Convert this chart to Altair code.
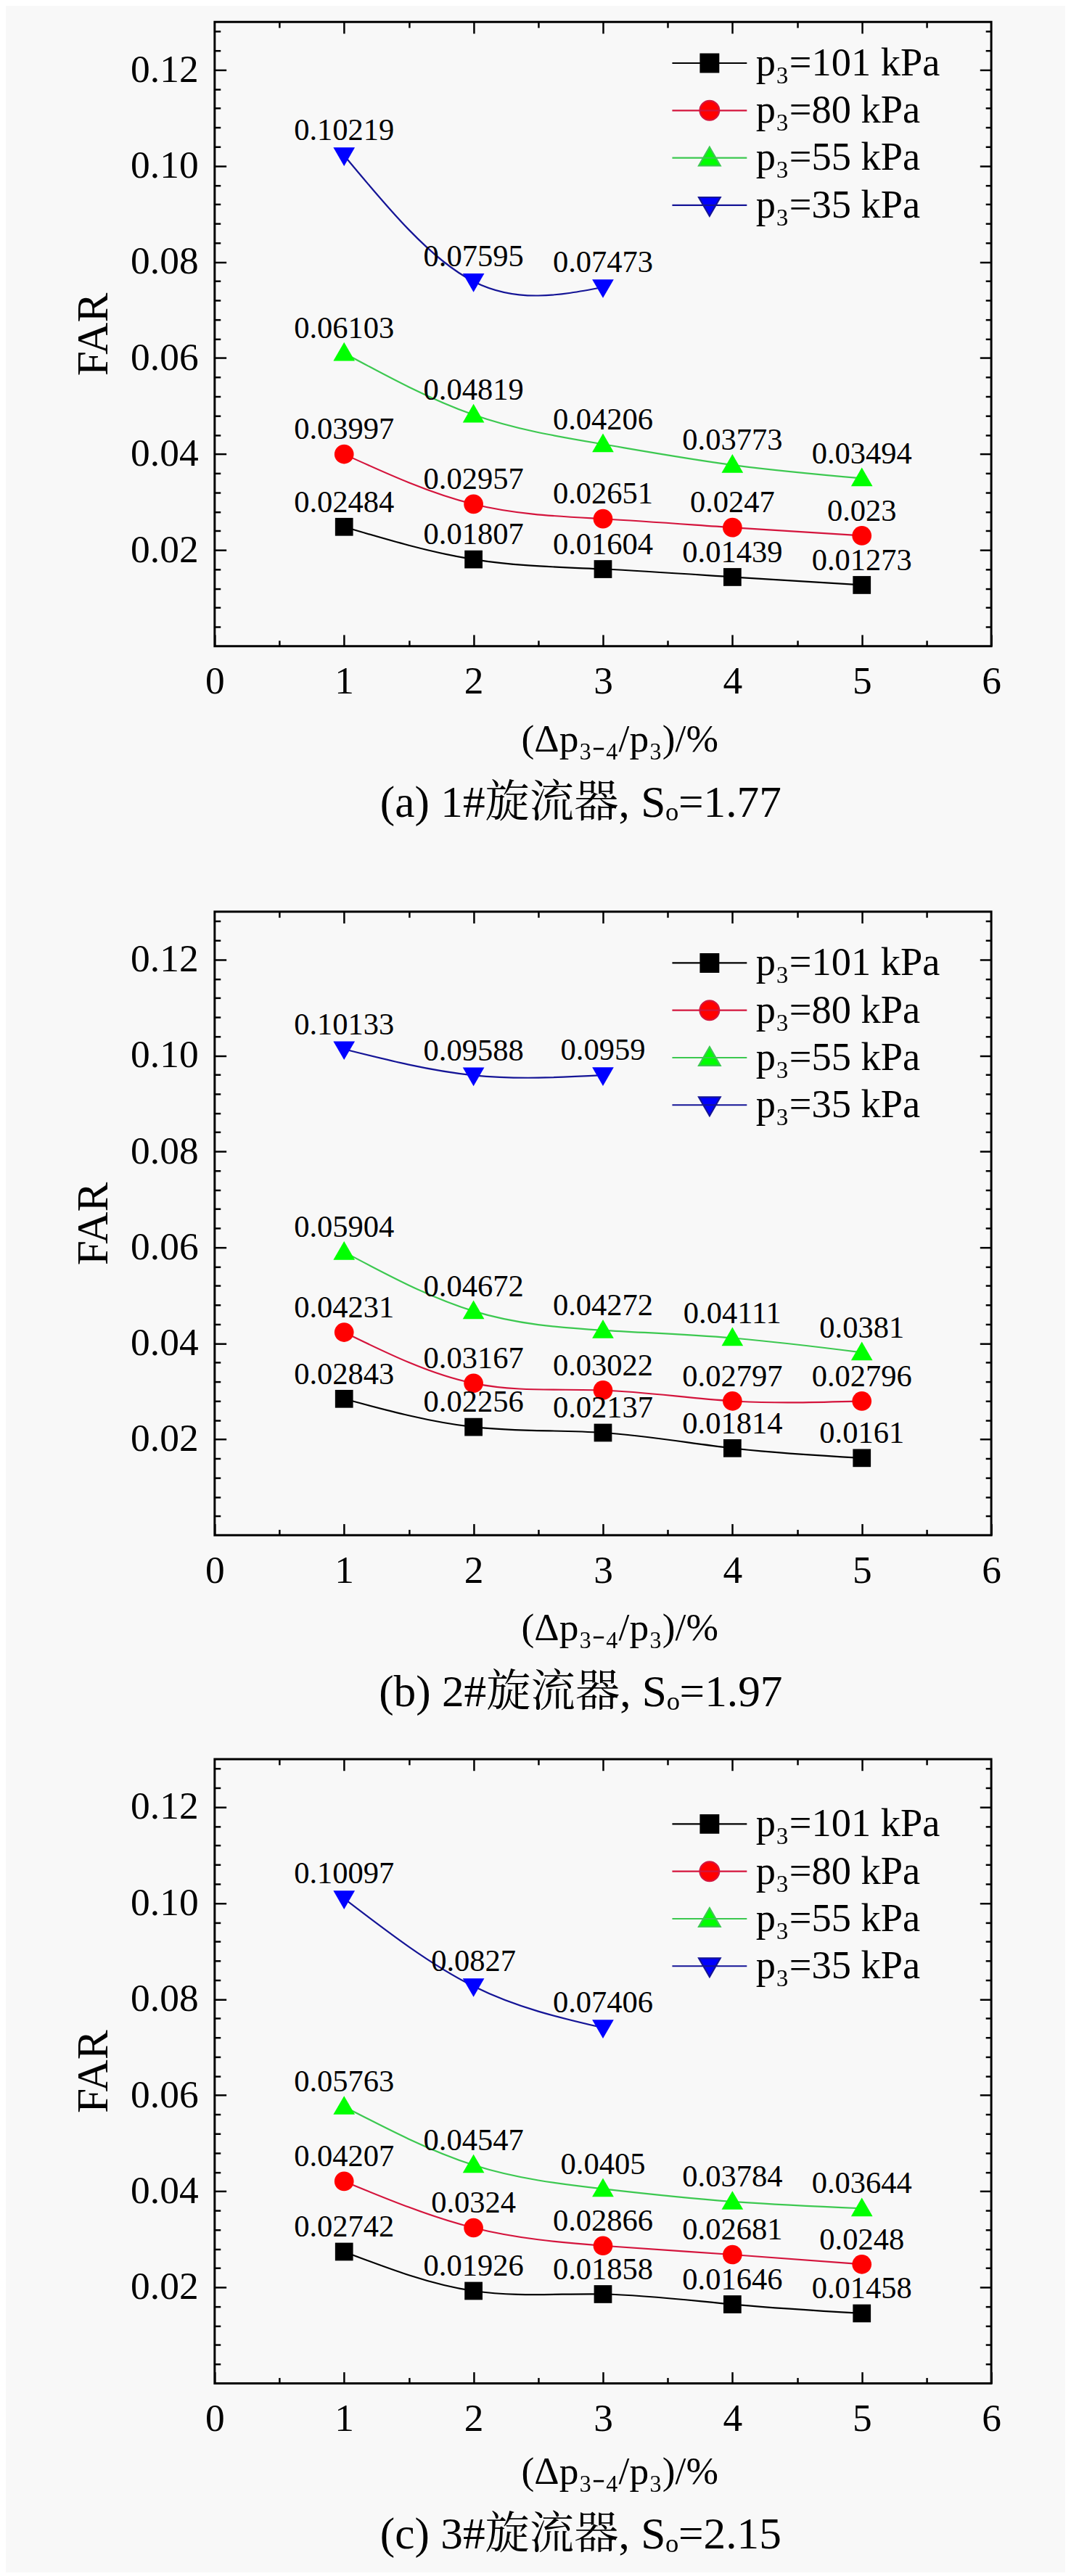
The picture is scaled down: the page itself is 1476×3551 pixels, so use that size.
import altair as alt
import pandas as pd

x_vals = [1, 2, 3, 4, 5]
series = ["p₃=101 kPa", "p₃=80 kPa", "p₃=55 kPa", "p₃=35 kPa"]

a101 = [0.02484, 0.01807, 0.01604, 0.01439, 0.01273]
a80 = [0.03997, 0.02957, 0.02651, 0.0247, 0.023]
a55 = [0.06103, 0.04819, 0.04206, 0.03773, 0.03494]
a35 = [0.10219, 0.07595, 0.07473]

b101 = [0.02843, 0.02256, 0.02137, 0.01814, 0.0161]
b80 = [0.04231, 0.03167, 0.03022, 0.02797, 0.02796]
b55 = [0.05904, 0.04672, 0.04272, 0.04111, 0.0381]
b35 = [0.10133, 0.09588, 0.0959]

c101 = [0.02742, 0.01926, 0.01858, 0.01646, 0.01458]
c80 = [0.04207, 0.0324, 0.02866, 0.02681, 0.0248]
c55 = [0.05763, 0.04547, 0.0405, 0.03784, 0.03644]
c35 = [0.10097, 0.0827, 0.07406]

captions = ["(a) 1#旋流器, Sₒ=1.77", "(b) 2#旋流器, Sₒ=1.97", "(c) 3#旋流器, Sₒ=2.15"]
x_title = "(Δp₃₋₄/p₃)/%"
y_title = "FAR"

x_major = [0, 1, 2, 3, 4, 5, 6]
x_minor = [0.5, 1.5, 2.5, 3.5, 4.5, 5.5]
y_major = [0.02, 0.04, 0.06, 0.08, 0.10, 0.12]
y_minor = [round(0.004 * k, 3) for k in range(1, 33) if k % 5 != 0]

# ---------------- styles ----------------
FONT = "Liberation Serif, Noto Serif CJK SC, Noto Sans CJK SC"
marker_colors = ["#000000", "#FF0000", "#00FF00", "#0000FF"]
line_colors = ["#000000", "#D4143C", "#3CC850", "#141496"]

SQ = "M-0.5,-0.5H0.5V0.5H-0.5Z"
CI = "M-0.54,0A0.54,0.54 0 1,0 0.54,0A0.54,0.54 0 1,0 -0.54,0Z"
TU = "M0,-0.6L0.6,0.44L-0.6,0.44Z"
TD = "M0,0.6L0.6,-0.44L-0.6,-0.44Z"
LN = "M-2.08,0H2.08"
marker_paths = [SQ, CI, TU, TD]
legend_paths = [LN + p for p in marker_paths]


def build_df(groups):
    rows = []
    for name, vals in zip(series, groups):
        for xv, yv in zip(x_vals, vals):
            rows.append({"x": xv, "y": yv, "s": name, "lab": str(yv)})
    return pd.DataFrame(rows)


common = dict(domain=False, grid=False, tickColor="black", tickWidth=2.5,
              labelFont=FONT, labelColor="black", titleFont=FONT,
              titleColor="black", titleFontWeight="normal")


def ax_bottom_major(title_y):
    return alt.Axis(orient="bottom", values=x_major, format="d", tickSize=16,
                    offset=-16, labelFontSize=54, labelPadding=23,
                    labelFlush=False, labelOverlap=False, title=x_title,
                    titleFontSize=54, titleX=564, titleY=title_y,
                    titleBaseline="top", titleAlign="center", **common)


ax_left_major = alt.Axis(orient="left", values=y_major, format=".2f", tickSize=16,
                         offset=-16, labelFontSize=54, labelPadding=23,
                         labelOverlap=False, title=y_title, titleFontSize=62,
                         titlePadding=19, **common)
ax_bottom_minor = alt.Axis(orient="bottom", values=x_minor, tickSize=8, offset=-8,
                           labels=False, title=None, **common)
ax_left_minor = alt.Axis(orient="left", values=y_minor, tickSize=8, offset=-8,
                         labels=False, title=None, **common)
ax_top_major = alt.Axis(orient="top", values=x_major[1:-1], tickSize=16, offset=-16,
                        labels=False, title=None, **common)
ax_right_major = alt.Axis(orient="right", values=y_major, tickSize=16, offset=-16,
                          labels=False, title=None, **common)
ax_top_minor = alt.Axis(orient="top", values=x_minor, tickSize=8, offset=-8,
                        labels=False, title=None, **common)
ax_right_minor = alt.Axis(orient="right", values=y_minor, tickSize=8, offset=-8,
                          labels=False, title=None, **common)

xscale = alt.Scale(domain=[0, 6], nice=False, zero=False)
yscale = alt.Scale(domain=[0, 0.13], nice=False, zero=False)


def X(axis):
    return alt.X("x:Q", scale=xscale, axis=axis)


def Y(axis):
    return alt.Y("y:Q", scale=yscale, axis=axis)


def panel(groups, caption, height, legend_y, title_y, cap_offset):
    df = build_df(groups)
    base = alt.Chart(df)
    lines = base.mark_line(interpolate="natural", strokeWidth=2.2).encode(
        x=X(ax_bottom_major(title_y)), y=Y(ax_left_major),
        color=alt.Color("s:N", scale=alt.Scale(domain=series, range=line_colors), legend=None),
    )
    points = base.mark_point(filled=True, opacity=1, size=2500).encode(
        x=X(ax_bottom_minor), y=Y(ax_left_minor),
        color=alt.Color("s:N", scale=alt.Scale(domain=series, range=marker_colors), legend=None),
        shape=alt.Shape("s:N", scale=alt.Scale(domain=series, range=marker_paths), legend=None),
    )
    texts = base.mark_text(font=FONT, fontSize=43, color="black", align="center",
                           baseline="alphabetic", dy=-21).encode(
        x=X(ax_top_major), y=Y(ax_right_major), text="lab:N",
    )
    leg_params = dict(orient="none", legendX=662, legendY=legend_y, title=None,
                      labelFont=FONT, labelFontSize=55, labelColor="black",
                      labelOffset=37, labelLimit=0, rowPadding=10, padding=0,
                      symbolSize=2500, symbolStrokeWidth=2.2, symbolOpacity=1)
    leg = base.transform_filter("datum.x < 0").mark_point(
        filled=True, opacity=1, size=2500, strokeWidth=2.2).encode(
        x=X(ax_top_minor), y=Y(ax_right_minor),
        fill=alt.Fill("s:N", scale=alt.Scale(domain=series, range=marker_colors),
                      legend=alt.Legend(**leg_params)),
        stroke=alt.Stroke("s:N", scale=alt.Scale(domain=series, range=line_colors),
                          legend=alt.Legend(**leg_params)),
        shape=alt.Shape("s:N", scale=alt.Scale(domain=series, range=legend_paths),
                        legend=alt.Legend(**leg_params)),
    )
    return alt.layer(lines, points, texts, leg).resolve_scale(
        color="independent", shape="independent", fill="independent", stroke="independent"
    ).resolve_axis(x="independent", y="independent").properties(
        width=1082, height=height,
        title=alt.TitleParams(caption, orient="bottom", anchor="middle", fontSize=62,
                              font=FONT, fontWeight="normal", color="black",
                              offset=cap_offset, baseline="top", dx=-31),
    )


pa = panel([a101, a80, a55, a35], captions[0], 870, 30, 119, 32)
pb = panel([b101, b80, b55, b35], captions[1], 869, 44, 119, 32)
pc = panel([c101, c80, c55, c35], captions[2], 870, 63, 113, 30)

chart = alt.vconcat(pa, alt.vconcat(pb, pc, spacing=57), spacing=115).properties(
    padding={"left": 90, "top": 0, "right": 88, "bottom": 0},
    background="#f8f8f8",
).configure_view(stroke="black", strokeWidth=3)

chart.save("out.html", embed_options={"renderer": "svg", "actions": False})
